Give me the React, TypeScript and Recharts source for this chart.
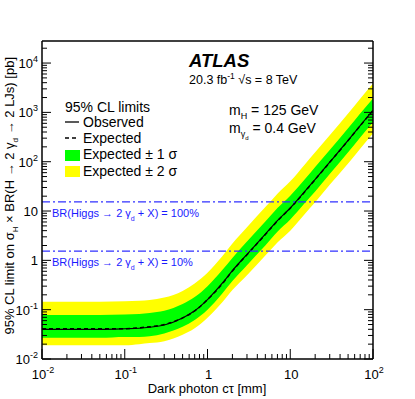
import React from 'react'
import { ComposedChart, Area, Line, XAxis, YAxis, ReferenceLine } from 'recharts'

// dark photon c*tau [mm]
const ctValues = [0.01, 0.02, 0.05, 0.1, 0.15, 0.2, 0.3, 0.5, 0.7, 1, 1.5, 2, 3, 5, 7, 10, 15, 20, 30, 50, 70, 100]
// 95% CL limits [pb]
const observed = [0.04, 0.04, 0.04, 0.041, 0.042, 0.044, 0.049, 0.068, 0.095, 0.16, 0.34, 0.62, 1.32, 3.4, 6.4, 11.5, 25, 44, 98, 270, 540, 1100]
const expected = [0.041, 0.041, 0.041, 0.041, 0.043, 0.045, 0.05, 0.068, 0.094, 0.16, 0.33, 0.61, 1.3, 3.35, 6.3, 11.4, 24.6, 43.5, 97, 268, 535, 1090]
const minus2 = [0.019, 0.019, 0.019, 0.019, 0.02, 0.021, 0.023, 0.031, 0.042, 0.069, 0.14, 0.25, 0.5, 1.25, 2.3, 4.0, 8.7, 15, 34, 92, 184, 375]
const minus1 = [0.027, 0.027, 0.027, 0.028, 0.028, 0.029, 0.033, 0.045, 0.062, 0.1, 0.21, 0.38, 0.8, 2.0, 3.8, 6.7, 14.5, 25, 56, 155, 310, 628]
const plus1 = [0.078, 0.078, 0.078, 0.08, 0.082, 0.086, 0.095, 0.13, 0.18, 0.3, 0.63, 1.12, 2.4, 6.1, 11.5, 20.5, 44, 78, 172, 475, 950, 1920]
const plus2 = [0.144, 0.144, 0.145, 0.148, 0.152, 0.158, 0.176, 0.24, 0.34, 0.56, 1.2, 2.2, 4.7, 12, 22.5, 40, 88, 155, 345, 950, 1900, 3860]

// BR(Higgs -> 2 gd + X) reference levels
const brLevels = [15.4, 1.54]
const brLabels = ['100%', '10%']

const xDecades = [-2, -1, 0, 1]
const yDecades = [-2, -1, 0, 1, 2, 3, 4]

const xTicks = [...xDecades.flatMap(d => [1, 2, 3, 4, 5, 6, 7, 8, 9].map(m => m * Math.pow(10, d))), 100]
const yTicks = yDecades.flatMap(d => [1, 2, 3, 4, 5, 6, 7, 8, 9].map(m => m * Math.pow(10, d))).filter(v => v < 28000)

const data = ctValues.map((ct, i) => ({
  ct,
  observed: observed[i],
  expected: expected[i],
  band1: [minus1[i], plus1[i]],
  band2: [minus2[i], plus2[i]],
}))

const FONT = '"Liberation Sans", Arial, Helvetica, sans-serif'

const isMajor = (v: number) => Math.abs(Math.log10(v) - Math.round(Math.log10(v))) < 1e-6

function PowLabel({ x, y, v, anchor }: { x: number; y: number; v: number; anchor: 'start' | 'middle' | 'end' }) {
  const e = Math.round(Math.log10(v))
  if (e === 0 || e === 1) {
    return (
      <text x={x} y={y} textAnchor={anchor} fontSize={13} fontFamily={FONT} fill="#000">
        {e === 0 ? '1' : '10'}
      </text>
    )
  }
  return (
    <text x={x} y={y} textAnchor={anchor} fontSize={13} fontFamily={FONT} fill="#000">
      <tspan>10</tspan>
      <tspan dy={-6} fontSize={9}>{e}</tspan>
    </text>
  )
}

const LeftTick = (props: any) => {
  const { x, y, payload } = props
  const major = isMajor(payload.value)
  return (
    <g>
      <line x1={x} x2={x + (major ? 9 : 5)} y1={y} y2={y} stroke="#000" />
      {major && <PowLabel x={x - 4} y={y + 5} v={payload.value} anchor="end" />}
    </g>
  )
}

const RightTick = (props: any) => {
  const { x, y, payload } = props
  const major = isMajor(payload.value)
  return <line x1={x} x2={x - (major ? 9 : 5)} y1={y} y2={y} stroke="#000" />
}

const BottomTick = (props: any) => {
  const { x, y, payload } = props
  const major = isMajor(payload.value)
  return (
    <g>
      <line x1={x} x2={x} y1={y} y2={y - (major ? 10 : 5)} stroke="#000" />
      {major && <PowLabel x={x + 1} y={y + 20} v={payload.value} anchor="middle" />}
    </g>
  )
}

const TopTick = (props: any) => {
  const { x, y, payload } = props
  const major = isMajor(payload.value)
  return <line x1={x} x2={x} y1={y} y2={y + (major ? 9 : 5)} stroke="#000" />
}

export default function App() {
  return (
    <div style={{ position: 'absolute', left: 0, top: 0, width: 415, height: 399, background: '#fff' }}>
      <ComposedChart width={415} height={399} data={data} margin={{ top: 0, right: 0, bottom: 0, left: 0 }}>
        <XAxis
          xAxisId="b"
          dataKey="ct"
          type="number"
          scale="log"
          domain={[0.01, 100]}
          allowDataOverflow
          ticks={xTicks}
          interval={0}
          height={40}
          tickSize={0}
          tickMargin={0}
          tickLine={false}
          tick={<BottomTick />}
          axisLine={{ stroke: '#000', strokeWidth: 1.5 }}
        />
        <XAxis
          xAxisId="t"
          orientation="top"
          type="number"
          scale="log"
          domain={[0.01, 100]}
          allowDataOverflow
          ticks={xTicks}
          interval={0}
          height={41}
          tickSize={0}
          tickMargin={0}
          tickLine={false}
          tick={<TopTick />}
          axisLine={{ stroke: '#000', strokeWidth: 1.5 }}
        />
        <YAxis
          yAxisId="l"
          type="number"
          scale="log"
          domain={[0.01, 28000]}
          allowDataOverflow
          ticks={yTicks}
          interval={0}
          width={42}
          tickSize={0}
          tickMargin={0}
          tickLine={false}
          tick={<LeftTick />}
          axisLine={{ stroke: '#000', strokeWidth: 1.5 }}
        />
        <YAxis
          yAxisId="r"
          orientation="right"
          type="number"
          scale="log"
          domain={[0.01, 28000]}
          allowDataOverflow
          ticks={yTicks}
          interval={0}
          width={42}
          tickSize={0}
          tickMargin={0}
          tickLine={false}
          tick={<RightTick />}
          axisLine={{ stroke: '#000', strokeWidth: 1.5 }}
        />
        <Area xAxisId="b" yAxisId="l" dataKey="band2" type="monotone" fill="#ffff00" fillOpacity={1} stroke="none" isAnimationActive={false} />
        <Area xAxisId="b" yAxisId="l" dataKey="band1" type="monotone" fill="#00ff00" fillOpacity={1} stroke="none" isAnimationActive={false} />
        <Line xAxisId="b" yAxisId="l" dataKey="expected" type="monotone" stroke="#000" strokeWidth={1.5} strokeDasharray="4 3" dot={false} isAnimationActive={false} />
        <Line xAxisId="b" yAxisId="l" dataKey="observed" type="monotone" stroke="#000" strokeWidth={1.2} dot={false} isAnimationActive={false} />
        {brLevels.map(v => (
          <ReferenceLine key={v} xAxisId="b" yAxisId="l" y={v} stroke="#3030ff" strokeWidth={1.2} strokeDasharray="8 3 2 3" />
        ))}
      </ComposedChart>
      <svg width={415} height={399} style={{ position: 'absolute', left: 0, top: 0, pointerEvents: 'none' }} fontFamily={FONT}>
        <text x={189} y={67} fontSize={18.5} fontWeight="bold" fontStyle="italic">ATLAS</text>
        <text x={189} y={84} fontSize={12.5}>
          <tspan>20.3 fb</tspan>
          <tspan dy={-5} fontSize={8.5}>-1</tspan>
          <tspan dy={5}> √s = 8 TeV</tspan>
        </text>

        <text x={65} y={112} fontSize={14}>95% CL limits</text>
        <line x1={65} x2={79} y1={122} y2={122} stroke="#000" strokeWidth={1.3} />
        <text x={83} y={127} fontSize={14}>Observed</text>
        <line x1={65} x2={79} y1={138} y2={138} stroke="#000" strokeWidth={1.3} strokeDasharray="4 3" />
        <text x={83} y={143} fontSize={14}>Expected</text>
        <rect x={65} y={150} width={15} height={11} fill="#00ff00" />
        <text x={83} y={159} fontSize={14}>Expected ± 1 σ</text>
        <rect x={65} y={166} width={15} height={11} fill="#ffff00" />
        <text x={83} y={176} fontSize={14}>Expected ± 2 σ</text>

        <text x={229} y={115} fontSize={14}>
          <tspan>m</tspan>
          <tspan dy={4} fontSize={9}>H</tspan>
          <tspan dy={-4}> = 125 GeV</tspan>
        </text>
        <text x={229} y={133} fontSize={14}>
          <tspan>m</tspan>
          <tspan dy={4} fontSize={9}>γ</tspan>
          <tspan dy={3} fontSize={6}>d</tspan>
          <tspan dy={-7}> = 0.4 GeV</tspan>
        </text>

        {brLabels.map((t, i) => (
          <text key={t} x={52} y={i === 0 ? 217 : 266} fontSize={11} fill="#1a1aff">
            <tspan>BR(Higgs → 2 γ</tspan>
            <tspan dy={4} fontSize={7}>d</tspan>
            <tspan dy={-4}> + X) = {t}</tspan>
          </text>
        ))}

        <text x={207} y={393} fontSize={13} textAnchor="middle">Dark photon cτ [mm]</text>
        <text transform="translate(14, 57) rotate(-90)" fontSize={13} textAnchor="end">
          <tspan>95% CL limit on σ</tspan>
          <tspan dy={4} fontSize={8}>H</tspan>
          <tspan dy={-4}> × BR(H → 2 γ</tspan>
          <tspan dy={4} fontSize={8}>d</tspan>
          <tspan dy={-4}> → 2 LJs) [pb]</tspan>
        </text>
      </svg>
    </div>
  )
}
